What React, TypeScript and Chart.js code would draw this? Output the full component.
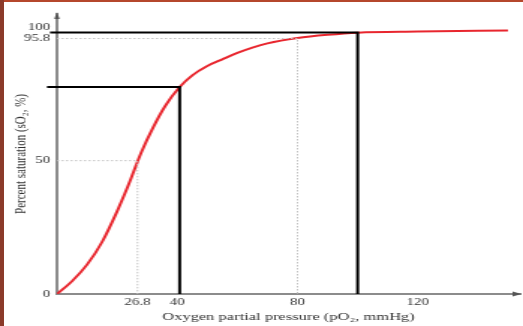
import React, { useEffect, useRef } from "react";
import { Chart, registerables } from "chart.js";

Chart.register(...registerables);

// ---------- data ----------
const xTickValues = [26.8, 40, 80, 120];
const yTickValues = [0, 50, 95.8, 100];
const xMax = 154;
const yMax = 105;

// oxygen dissociation curve (pO2 mmHg, sO2 %)
const curvePO2 = [0, 5, 10, 15, 20, 24, 28, 32, 36, 40.8, 45, 50, 55, 60, 65, 70, 80, 90, 100, 120, 150];
const curveSO2 = [0, 4.8, 11, 19.5, 31, 41.5, 53, 62.5, 70.5, 77.6, 82, 85.5, 88, 90.4, 92.4, 94, 96, 97.2, 98, 98.4, 98.8];

// dotted guide lines
const guide50X = [0, 26.8, 26.8];
const guide50Y = [50, 50, 0];
const guide958X = [0, 80, 80];
const guide958Y = [95.8, 95.8, 0];

// black marker lines
const mark40X = [-3.3, 40.8, 40.8];
const mark40Y = [77.6, 77.6, 0];
const mark100X = [-2.3, 100, 100];
const mark100Y = [98.1, 98.1, 0];

const xTitle = "Oxygen partial pressure (pO\u2082, mmHg)";
const yTitle = "Percent saturation (sO\u2082, %)";

// ---------- layout ----------
const W = 523;
const H = 326;
const CW = 349; // drawn width, stretched horizontally to W
const FONT = '"Liberation Serif", "Times New Roman", serif';

const pts = (xs: number[], ys: number[]) => xs.map((x, i) => ({ x, y: ys[i] }));

const arrowPlugin = {
  id: "axisArrows",
  afterDraw(chart: any) {
    const { ctx, chartArea } = chart;
    const { left, right, bottom, top } = chartArea;
    ctx.save();
    ctx.fillStyle = "#555";
    ctx.beginPath();
    ctx.moveTo(left, top - 2);
    ctx.lineTo(left - 1.8, top + 5);
    ctx.lineTo(left + 1.8, top + 5);
    ctx.closePath();
    ctx.fill();
    ctx.beginPath();
    ctx.moveTo(right + 1, bottom);
    ctx.lineTo(right - 5, bottom - 2.5);
    ctx.lineTo(right - 5, bottom + 2.5);
    ctx.closePath();
    ctx.fill();
    ctx.restore();
  },
};

export default function App() {
  const ref = useRef<HTMLCanvasElement | null>(null);

  useEffect(() => {
    if (!ref.current) return;
    const guide = {
      borderColor: "#c4c4c4",
      borderWidth: 1,
      borderDash: [1.5, 1.5],
      pointRadius: 0,
      tension: 0,
      fill: false,
    };
    const mark = {
      borderColor: "#000000",
      borderWidth: 2,
      pointRadius: 0,
      tension: 0,
      fill: false,
      clip: false as any,
    };
    const chart = new Chart(ref.current, {
      type: "line",
      data: {
        datasets: [
          { ...guide, data: pts(guide50X, guide50Y) },
          { ...guide, data: pts(guide958X, guide958Y) },
          { ...mark, data: pts(mark40X, mark40Y) },
          { ...mark, data: pts(mark100X, mark100Y) },
          {
            data: pts(curvePO2, curveSO2),
            borderColor: "#e8262e",
            borderWidth: 2,
            pointRadius: 0,
            cubicInterpolationMode: "monotone",
            fill: false,
          },
        ] as any,
      },
      options: {
        responsive: false,
        animation: false,
        devicePixelRatio: 1,
        layout: { padding: { left: 0, right: 2, top: 14, bottom: 0 } },
        plugins: { legend: { display: false }, tooltip: { enabled: false } },
        scales: {
          x: {
            type: "linear",
            min: 0,
            max: xMax,
            afterBuildTicks: (s: any) => {
              s.ticks = xTickValues.map((v) => ({ value: v }));
            },
            afterFit: (s: any) => {
              s.height = 32;
            },
            grid: { display: false, drawTicks: false },
            border: { display: true, color: "#8c8c8c", width: 2 },
            ticks: {
              autoSkip: false,
              maxRotation: 0,
              padding: 2,
              color: "#333",
              font: { family: FONT, size: 10 },
              callback: (v: any) => String(v),
            },
            title: {
              display: true,
              text: xTitle,
              color: "#333",
              font: { family: FONT, size: 11 },
              padding: { top: 0, bottom: 2 },
            },
          },
          y: {
            type: "linear",
            min: 0,
            max: yMax,
            afterBuildTicks: (s: any) => {
              s.ticks = yTickValues.map((v) => ({ value: v }));
            },
            afterFit: (s: any) => {
              s.width = 38;
            },
            grid: { display: false, drawTicks: false },
            border: { display: true, color: "#8c8c8c", width: 2 },
            ticks: {
              autoSkip: false,
              padding: 4.5,
              color: "#333",
              font: { family: FONT, size: 10 },
              callback: (v: any) => String(v),
            },
            title: {
              display: true,
              text: yTitle,
              color: "#333",
              font: { family: FONT, size: 11 },
              padding: { top: 7.5, bottom: 0 },
            },
          },
        },
      } as any,
      plugins: [arrowPlugin],
    });
    return () => chart.destroy();
  }, []);

  return (
    <div style={{ position: "absolute", left: 0, top: 0, width: W, height: H, overflow: "hidden", background: "#fff" }}>
      <div
        style={{
          position: "absolute",
          left: 0,
          top: 0,
          width: CW,
          height: H,
          transform: `scaleX(${W / CW})`,
          transformOrigin: "0 0",
        }}
      >
        <canvas ref={ref} width={CW} height={H} style={{ display: "block", width: CW, height: H }} />
      </div>
      <div style={{ position: "absolute", left: 0, top: 0, width: W, height: 2, background: "#b5472c" }} />
      <div style={{ position: "absolute", left: 0, top: 0, width: 4, height: H, background: "#8b3a2a" }} />
    </div>
  );
}
